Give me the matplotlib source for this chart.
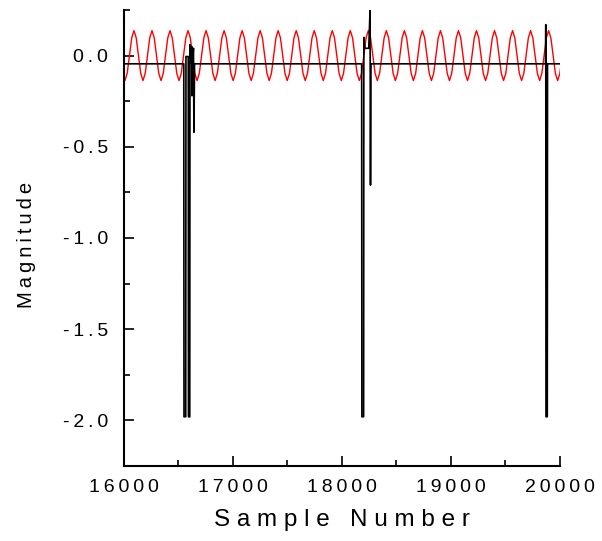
import numpy as np
import matplotlib
matplotlib.use('Agg')
import matplotlib.pyplot as plt
from matplotlib.ticker import MultipleLocator, FuncFormatter

plt.rcParams['font.family'] = ['Liberation Sans', 'DejaVu Sans']

# red reference sinusoid: one cycle (starting at a peak)
ref_cycle = [0.137, 0.097, 0.0, -0.097, -0.137, -0.097, 0.0, 0.097]
ref_first_peak = 16096
ref_period = 165.4
ref_n_cycles = 26

sig_x = [16000, 16553, 16555, 16571, 16573, 16594, 16596, 16608, 16610,
         16620, 16626, 16628, 16632, 16642, 16646, 16652,
         18185, 18187, 18203, 18205, 18215, 18250, 18262, 18266, 18270,
         19872, 19874, 19876, 19888, 19890, 20000]
sig_y = [-0.045, -0.045, -1.98, -1.98, -0.005, -0.005, -1.98, -1.98, 0.06,
         -0.04, 0.05, -0.22, -0.04, 0.04, -0.42, -0.045,
         -0.045, -1.98, -1.98, 0.10, 0.04, 0.04, 0.25, -0.71, -0.045,
         -0.045, 0.17, -1.98, -1.98, -0.045, -0.045]

THIN = '\u2009'


def spaced(s, sep=' '):
    return sep.join(s)


fig = plt.figure(figsize=(6.02, 5.41), dpi=100)
ax = fig.add_axes([123.5 / 602, 75 / 541, 436 / 602, 456 / 541])

# tile the read cycle along x
ref_y = np.tile(ref_cycle, ref_n_cycles)
ref_x = ref_first_peak - ref_period + np.arange(len(ref_y)) * ref_period / len(ref_cycle)
ax.plot(ref_x, ref_y, color='red', lw=1.0)
ax.plot(sig_x, sig_y, color='black', lw=1.2)

ax.set_xlim(16000, 20000)
ax.set_ylim(-2.25, 0.25)
ax.xaxis.set_major_locator(MultipleLocator(1000))
ax.xaxis.set_minor_locator(MultipleLocator(500))
ax.yaxis.set_major_locator(MultipleLocator(0.5))
ax.yaxis.set_minor_locator(MultipleLocator(0.25))
ax.xaxis.set_major_formatter(FuncFormatter(lambda v, p: spaced('%d' % v, THIN)))
ax.yaxis.set_major_formatter(FuncFormatter(lambda v, p: spaced('%.1f' % (v + 0.0), THIN)))

for s in ['top', 'right']:
    ax.spines[s].set_visible(False)
for s in ['left', 'bottom']:
    ax.spines[s].set_linewidth(1.5)

ax.tick_params(which='both', direction='in', width=1.2, labelsize=14)
ax.tick_params(which='major', length=7)
ax.tick_params(which='minor', length=4)
ax.tick_params(axis='y', pad=11)
ax.tick_params(axis='x', pad=9)

ax.set_xlabel(spaced('Sample Number'), fontsize=17.5)
ax.set_ylabel(spaced('Magnitude', THIN), fontsize=14.5)
ax.xaxis.set_label_coords(0.5, -0.095)
ax.yaxis.set_label_coords(-0.20, 0.485)

fig.savefig('out.png', dpi=100)
